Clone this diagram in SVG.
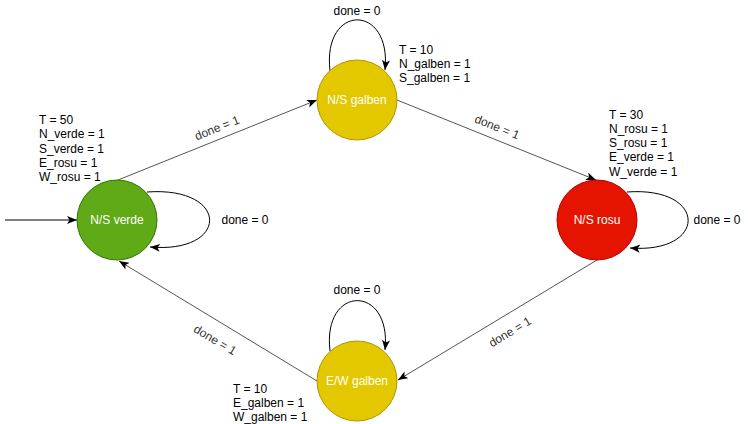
<svg xmlns="http://www.w3.org/2000/svg" width="748" height="424" viewBox="0 0 748 424">
<defs>
<marker id="arr" markerUnits="userSpaceOnUse" markerWidth="12" markerHeight="10" refX="10" refY="4" orient="auto">
<path d="M0,0 L10,4 L0,8 L2.5,4 Z" fill="#000"/>
</marker>
</defs>
<style>
.txt{font-family:"Liberation Sans",Arial,sans-serif;font-size:12px;fill:#000}
.lbl{font-family:"Liberation Sans",Arial,sans-serif;font-size:12px;fill:#fff;text-anchor:middle;dominant-baseline:central}
.el{font-family:"Liberation Sans",Arial,sans-serif;font-size:12px;fill:#333;text-anchor:middle;dominant-baseline:central}
.ll{font-family:"Liberation Sans",Arial,sans-serif;font-size:12px;fill:#000;text-anchor:middle;dominant-baseline:central}
.line{fill:none;stroke:#555;stroke-width:1;marker-end:url(#arr)}
.loop{fill:none;stroke:#000;stroke-width:1;marker-end:url(#arr)}
</style>
<rect width="748" height="424" fill="#fff"/>
<g id="connectors">
<path class="loop" d="M5,220 L77,220"/>
<path class="line" d="M118,180 L317,100"/>
<path class="line" d="M397,100 L596,180"/>
<path class="line" d="M597,260 L398,380"/>
<path class="line" d="M317,381 L119,261"/>
<path class="loop" d="M147,192 C230,186 230,254 150,247"/>
<path class="loop" d="M330,71 C322,3 392,3 385,70"/>
<path class="loop" d="M627,192 C708,186 708,254 630,248"/>
<path class="loop" d="M330,351 C322,284 392,284 385,350"/>
<text class="el" transform="translate(217,128) rotate(-22)">done = 1</text>
<text class="el" transform="translate(497,127) rotate(22)">done = 1</text>
<text class="el" transform="translate(510,332) rotate(-31)">done = 1</text>
<text class="el" transform="translate(215,340) rotate(31)">done = 1</text>
<text class="ll" x="245" y="220">done = 0</text>
<text class="ll" x="357" y="11">done = 0</text>
<text class="ll" x="717" y="220">done = 0</text>
<text class="ll" x="357" y="290">done = 0</text>
</g>
<g id="ns-verde">
<circle cx="117" cy="220" r="40" fill="#60A917" stroke="#2D7600"/>
<text class="lbl" x="117" y="220">N/S verde</text>
</g>
<g id="ns-galben">
<circle cx="357" cy="100" r="40" fill="#E3C800" stroke="#B09500"/>
<text class="lbl" x="357" y="100">N/S galben</text>
</g>
<g id="ns-rosu">
<circle cx="597" cy="220" r="40" fill="#E51400" stroke="#B20000"/>
<text class="lbl" x="597" y="220">N/S rosu</text>
</g>
<g id="ew-galben">
<circle cx="357" cy="381" r="40" fill="#E3C800" stroke="#B09500"/>
<text class="lbl" x="357" y="381">E/W galben</text>
</g>
<g id="notes">
<text class="txt" x="39" y="124">T = 50<tspan x="39" dy="14.3">N_verde = 1</tspan><tspan x="39" dy="14.3">S_verde = 1</tspan><tspan x="39" dy="14.3">E_rosu = 1</tspan><tspan x="39" dy="14.3">W_rosu = 1</tspan></text>
<text class="txt" x="399" y="53.5">T = 10<tspan x="399" dy="14.3">N_galben = 1</tspan><tspan x="399" dy="14.3">S_galben = 1</tspan></text>
<text class="txt" x="609" y="118.5">T = 30<tspan x="609" dy="14.3">N_rosu = 1</tspan><tspan x="609" dy="14.3">S_rosu = 1</tspan><tspan x="609" dy="14.3">E_verde = 1</tspan><tspan x="609" dy="14.3">W_verde = 1</tspan></text>
<text class="txt" x="233" y="392.5">T = 10<tspan x="233" dy="14.3">E_galben = 1</tspan><tspan x="233" dy="14.3">W_galben = 1</tspan></text>
</g>
</svg>
